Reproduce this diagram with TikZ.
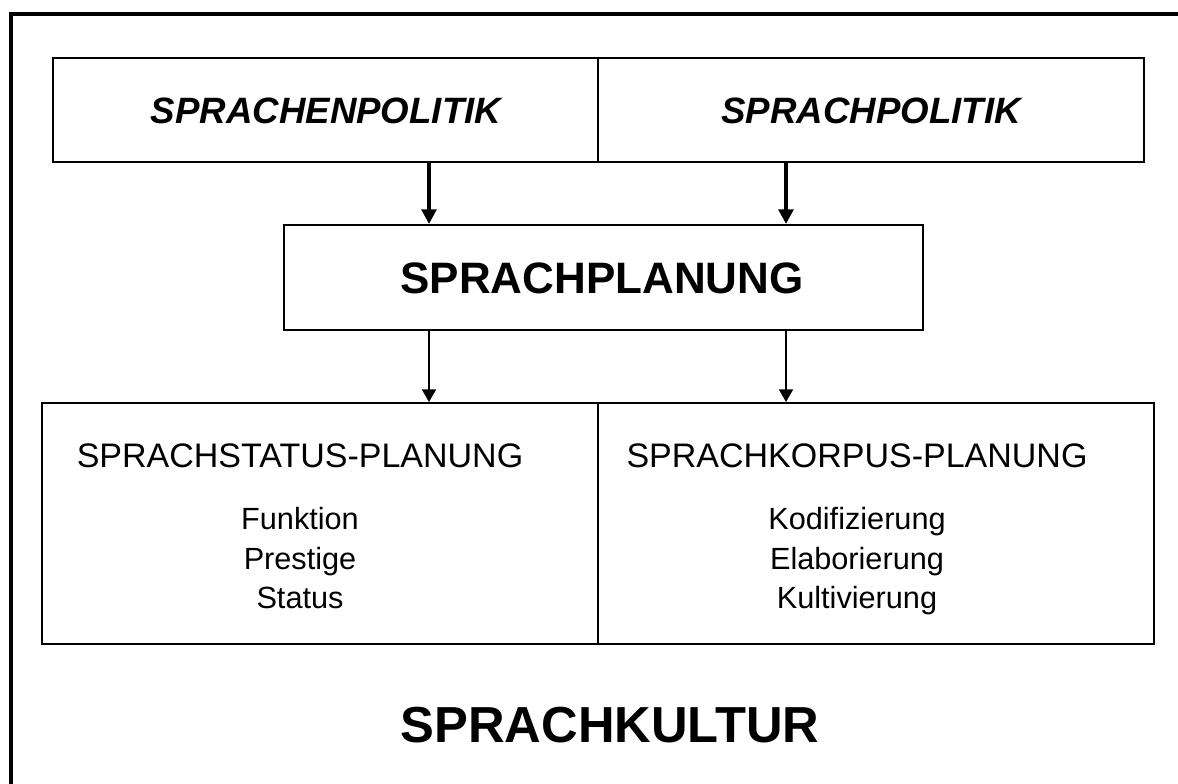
\documentclass[tikz,border=0pt]{standalone}
\usepackage{fontspec}
\setmainfont{Liberation Sans}
\usetikzlibrary{arrows.meta}

\begin{document}
\begin{tikzpicture}[x=0.75pt,y=0.75pt,yscale=-1,xscale=1,
  box/.style={draw, line width=1.2pt, inner sep=0pt, anchor=north west},
  bigarrow/.style={line width=3pt, -{Triangle[length=11pt,width=11pt]}},
  smallarrow/.style={line width=1.6pt, -{Triangle[length=9.5pt,width=10.5pt]}},
  toptitle/.style={anchor=base, font=\fontsize{27.5}{32}\selectfont\bfseries\itshape},
  subtitle/.style={anchor=base, font=\fontsize{25.5}{30}\selectfont},
  item/.style={anchor=base, font=\fontsize{23}{28}\selectfont}]
\useasboundingbox (0,0) rectangle (1178,783);

%Outer frame
\draw [line width=3pt] (11,14) rectangle (1210,810);

%Boxes
\node [box, minimum width=545*0.75pt, minimum height=104*0.75pt] (spol) at (52,57) {};
\node [box, minimum width=546*0.75pt, minimum height=104*0.75pt] (sppol) at (597,57) {};
\node [box, minimum width=639*0.75pt, minimum height=105*0.75pt] (plan) at (283,224) {};
\node [box, minimum width=556*0.75pt, minimum height=241*0.75pt] (status) at (41,402) {};
\node [box, minimum width=556*0.75pt, minimum height=241*0.75pt] (korpus) at (597,402) {};

%Arrows
\coordinate (la) at (429,0);
\coordinate (ra) at (786,0);
\draw [bigarrow] (spol.south -| la) -- (plan.north -| la);
\draw [bigarrow] (sppol.south -| ra) -- (plan.north -| ra);
\draw [smallarrow] (plan.south -| la) -- (status.north -| la);
\draw [smallarrow] (plan.south -| ra) -- (korpus.north -| ra);

% Text Node
\node [toptitle] (spoltext) at (326,123) {SPRACHENPOLITIK};
% Text Node
\node [toptitle] (sppoltext) at (871,123) {SPRACHPOLITIK};
% Text Node
\node [anchor=base, font=\fontsize{33}{38}\selectfont\bfseries] (plantext) at (602,293) {SPRACHPLANUNG};
% Text Node
\node [subtitle] (statustext) at (300,467) {SPRACHSTATUS-PLANUNG};
\node [item] (funktion) at (300,529) {Funktion};
\node [item] (prestige) at (300,569) {Prestige};
\node [item] (statusitem) at (300,608) {Status};
% Text Node
\node [subtitle] (korpustext) at (857,467) {SPRACHKORPUS-PLANUNG};
\node [item] (kodif) at (857,529) {Kodifizierung};
\node [item] (elab) at (857,569) {Elaborierung};
\node [item] (kult) at (857,608) {Kultivierung};
% Text Node
\node [anchor=base, font=\fontsize{38}{44}\selectfont\bfseries] (kultur) at (610,742) {SPRACHKULTUR};

\end{tikzpicture}
\end{document}
